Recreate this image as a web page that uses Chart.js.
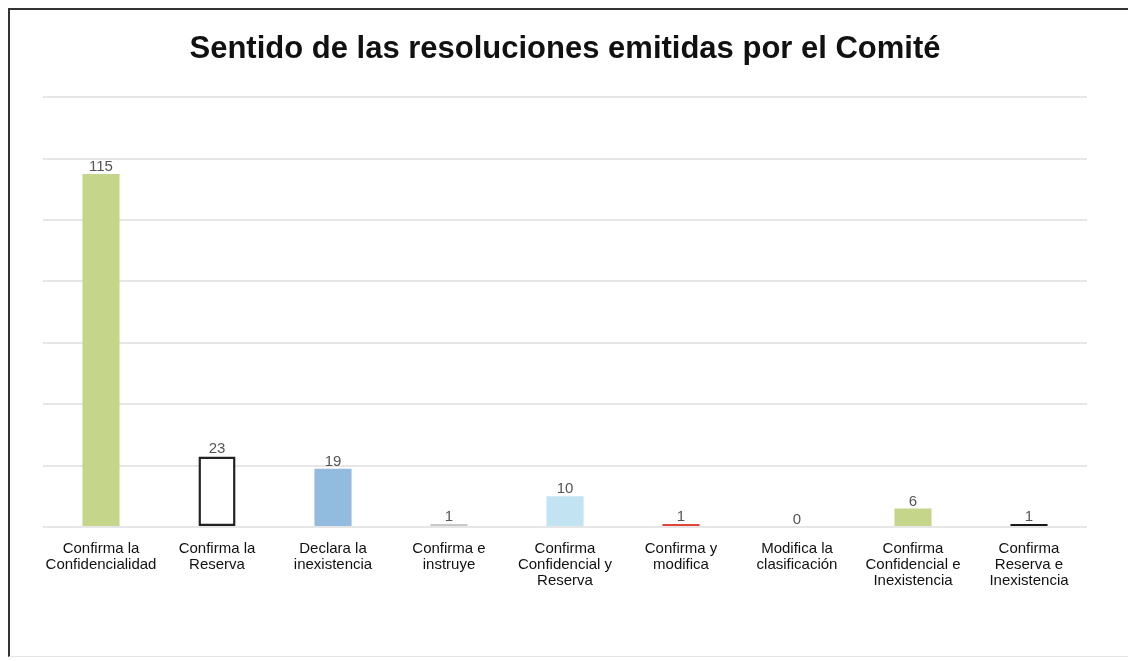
<!DOCTYPE html>
<html><head><meta charset="utf-8">
<script src="https://cdn.jsdelivr.net/npm/chart.js@4.4.1/dist/chart.umd.min.js"></script>
<style>
html,body{margin:0;padding:0;background:#fff;}
#wrap{position:absolute;left:0;top:0;width:1128px;height:661px;}
#frame{position:absolute;left:8px;top:8px;width:1130px;height:646px;border-left:2px solid #333;border-top:2px solid #333;border-bottom:1px solid #e4e4e4;}
canvas{position:absolute;left:0;top:0;}
</style></head>
<body>
<div id="wrap"><div id="frame"></div><canvas id="c" width="1128" height="661"></canvas></div>
<script>
const categories = [
  ["Confirma la","Confidencialidad"],
  ["Confirma la","Reserva"],
  ["Declara la","inexistencia"],
  ["Confirma e","instruye"],
  ["Confirma","Confidencial y","Reserva"],
  ["Confirma y","modifica"],
  ["Modifica la","clasificación"],
  ["Confirma","Confidencial e","Inexistencia"],
  ["Confirma","Reserva e","Inexistencia"]
];
const values = [115, 23, 19, 1, 10, 1, 0, 6, 1];
const fillColors = ["#c5d68b","#ffffff","#92bbdd","#c8c8c8","#c2e3f1","#e2453a","#cccccc","#c5d68b","#1a1a1a"];
const borderColors = ["#c5d68b","#222222","#92bbdd","#c8c8c8","#c2e3f1","#e2453a","#cccccc","#c5d68b","#1a1a1a"];
const borderWidths = [0,2.5,0,0,0,0,0,0,0];
const titleText = "Sentido de las resoluciones emitidas por el Comité";

const valueLabels = {
  id:'valueLabels',
  afterDatasetsDraw(chart){
    const ctx = chart.ctx;
    const meta = chart.getDatasetMeta(0);
    ctx.save();
    ctx.font = '15px "Liberation Sans", Arial, sans-serif';
    ctx.fillStyle = '#555';
    ctx.textAlign = 'center';
    ctx.textBaseline = 'alphabetic';
    meta.data.forEach((bar,i)=>{
      ctx.fillText(String(values[i]), bar.x, bar.y - 3);
    });
    ctx.restore();
  }
};

new Chart(document.getElementById('c'), {
  type:'bar',
  data:{labels:categories, datasets:[{data:values, backgroundColor:fillColors, borderColor:borderColors, borderWidth:borderWidths, borderSkipped:false, categoryPercentage:1, barPercentage:0.32}]},
  options:{
    responsive:false, animation:false,
    layout:{padding:{left:43,right:41,top:31,bottom:0}},
    plugins:{
      legend:{display:false}, tooltip:{enabled:false},
      title:{display:true, text:titleText, color:'#111', font:{family:'"Liberation Sans", Arial, sans-serif', size:31, weight:'bold'}, padding:{top:0,bottom:29}}
    },
    scales:{
      x:{grid:{display:false}, border:{display:false},
         ticks:{color:'#111', font:{family:'"Liberation Sans", Arial, sans-serif', size:15, lineHeight:1.07}, padding:6, maxRotation:0, autoSkip:false},
         afterFit(s){s.height=134;}},
      y:{min:0,max:140, ticks:{display:false, stepSize:20}, border:{display:false},
         grid:{color:'#e6e6e6', lineWidth:2, drawTicks:false},
         afterFit(s){s.width=0;}}
    }
  },
  plugins:[valueLabels]
});
</script>
</body></html>
